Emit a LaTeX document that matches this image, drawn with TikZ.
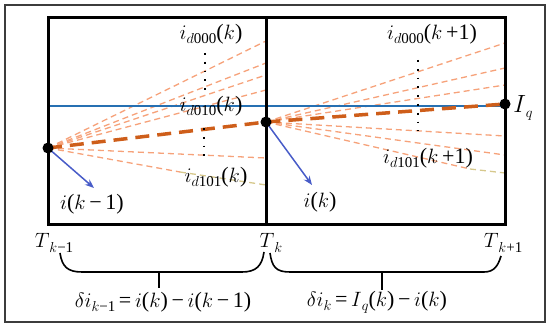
\documentclass[tikz,border=0pt]{standalone}
\usepackage{fontspec}
\setmainfont{Liberation Serif}
\usetikzlibrary{arrows.meta}
\definecolor{fanor}{RGB}{246,162,122}
\definecolor{thickor}{RGB}{206,94,26}
\definecolor{lineblue}{RGB}{38,112,178}
\definecolor{arrblue}{RGB}{72,92,200}
\definecolor{khaki}{RGB}{214,200,140}
\definecolor{framegray}{RGB}{60,60,60}
\newcommand{\lsub}[1]{\raisebox{-0.42ex}{\fontsize{15}{15}\selectfont #1}}
\newcommand{\mi}[1]{\ensuremath{#1}}
\newcommand{\mminus}{\,−\,}
\begin{document}
\begin{tikzpicture}[x=1pt,y=-1pt,
  lbl/.style={inner sep=0pt, font=\fontsize{22}{22}\selectfont},
  fan/.style={fanor, line width=1.3pt, dash pattern=on 6pt off 4pt},
  fankh/.style={khaki, line width=1.3pt, dash pattern=on 6pt off 4pt},
  thickdash/.style={thickor, line width=3.5pt, dash pattern=on 14pt off 8pt},
  boxline/.style={black, line width=3pt},
  vdots/.style={black, line width=1.8pt, dash pattern=on 1.8pt off 7pt},
  arr/.style={arrblue, line width=1.5pt, -{Stealth[length=9pt,width=7pt]}},
  brace/.style={black, line width=1.6pt},
  dot/.style={circle, fill=black, inner sep=0pt, minimum size=11pt}]
\useasboundingbox (0,0) rectangle (550,328);
\draw[framegray, line width=1.5pt] (5,5) rectangle (545,322);

\coordinate (A) at (48,148);
\coordinate (B) at (266,122);
\coordinate (C) at (505,104);

% fans left
\foreach \y/\n in {41/1,63/2,75/3,90/4,158/5}{
  \coordinate (L\n) at (266,\y);
  \draw[fan] (A) -- (L\n);
}
\coordinate (L6) at (266,185);
\coordinate (L6m) at (180,172);
\draw[fan] (A) -- (L6m);
\draw[fankh] (L6m) -- (L6);
% fans right
\foreach \y/\n in {43/1,68/2,85/3,136/4,155/5}{
  \coordinate (R\n) at (505,\y);
  \draw[fan] (B) -- (R\n);
}
\coordinate (R6) at (505,173);
\coordinate (R6m) at (470,169);
\draw[fan] (B) -- (R6m);
\draw[fankh] (R6m) -- (R6);

% blue line
\coordinate (BL1) at (48,106);
\coordinate (BL2) at (505,106);
\draw[lineblue, line width=1.6pt] (BL1) -- (BL2);

% thick dashed
\draw[thickdash] (A) -- (B) -- (C);

% vertical dots
\coordinate (V1a) at (205,53); \coordinate (V1b) at (205,90);
\coordinate (V2a) at (204,128); \coordinate (V2b) at (204,163);
\coordinate (V3a) at (418,60); \coordinate (V3b) at (418,131);
\draw[vdots] (V1a) -- (V1b);
\draw[vdots] (V2a) -- (V2b);
\draw[vdots] (V3a) -- (V3b);

% boxes
\draw[boxline] (48,18) rectangle (505,225);
\draw[boxline] (266,18) -- (266,225);

% arrows
\coordinate (a1) at (94,188);
\coordinate (a2) at (312,185);
\draw[arr] (A) -- (a1);
\draw[arr] (B) -- (a2);

% dots
\node[dot] (dA) at (A) {};
\node[dot] (dB) at (B) {};
\node[dot] (dC) at (C) {};

% labels
\node[lbl] (l1) at (211,34) {\mi{i}\lsub{\mi{d}000}(\mi{k})};
\node[lbl] (l2) at (211,106) {\mi{i}\lsub{\mi{d}010}(\mi{k})};
\node[lbl] (l3) at (216,177) {\mi{i}\lsub{\mi{d}101}(\mi{k})};
\node[lbl] (l4) at (432,34) {\mi{i}\lsub{\mi{d}000}(\mi{k}\,+1)};
\node[lbl] (l5) at (428,158) {\mi{i}\lsub{\mi{d}101}(\mi{k}\,+1)};
\node[lbl] (l6) at (523,108) {\fontsize{26}{26}\selectfont\mi{I}\lsub{\mi{q}}};
\node[lbl] (l7) at (92,204) {\mi{i}(\mi{k}\mminus1)};
\node[lbl] (l8) at (320,202) {\mi{i}(\mi{k})};
\node[lbl] (t1) at (54,243) {\mi{T}\lsub{\mi{k}−1}};
\node[lbl] (t2) at (271,243) {\mi{T}\lsub{\mi{k}}};
\node[lbl] (t3) at (503,243) {\mi{T}\lsub{\mi{k}+1}};
\node[lbl] (e1) at (163,302) {\mi{\delta i}\lsub{\mi{k}−1}\,=\,\mi{i}(\mi{k})\mminus\mi{i}(\mi{k}\mminus1)};
\node[lbl] (e2) at (377,302) {\mi{\delta i}\lsub{\mi{k}}\,=\,\mi{I}\lsub{\mi{q}}(\mi{k})\mminus\mi{i}(\mi{k})};

% braces
\draw[brace] (60,253) .. controls (62,267) and (68,272) .. (82,272) -- (242,272) .. controls (256,272) and (262,266) .. (264,252);
\draw[brace] (159,272) -- (159,288);
\draw[brace] (270,253) .. controls (272,267) and (276,272) .. (290,272) -- (484,272) .. controls (494,272) and (498,266) .. (501,256);
\draw[brace] (382,272) -- (382,290);
\end{tikzpicture}
\end{document}
